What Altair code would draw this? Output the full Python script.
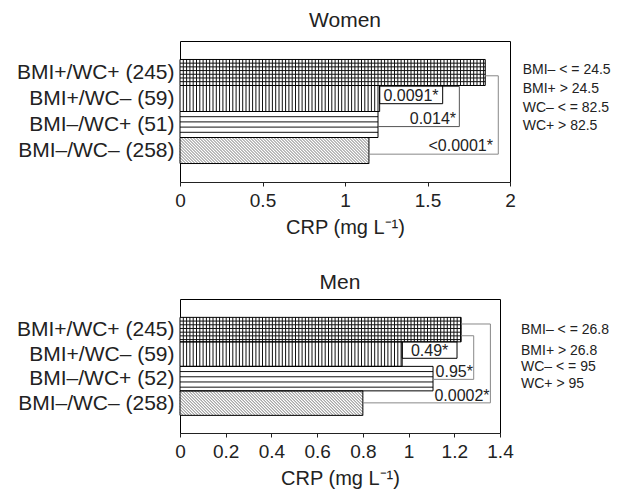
import json
import altair as alt
import numpy as np
import pandas as pd

FONT = "Liberation Sans"
INK = "#222222"

# ---------------- data ----------------
women_groups = ["BMI+/WC+ (245)", "BMI+/WC– (59)", "BMI–/WC+ (51)", "BMI–/WC– (258)"]
women_crp = [1.85, 1.21, 1.20, 1.145]
men_groups = ["BMI+/WC+ (245)", "BMI+/WC– (59)", "BMI–/WC+ (52)", "BMI–/WC– (258)"]
men_crp = [1.23, 0.972, 1.107, 0.80]
bar_patterns = ["grid", "vertical", "horizontal", "diagonal"]

women_cutoffs = ["BMI– < = 24.5", "BMI+ > 24.5", "WC– < = 82.5", "WC+ > 82.5"]
men_cutoffs = ["BMI– < = 26.8", "BMI+ > 26.8", "WC– < = 95", "WC+ > 95"]

women_pvals = ["0.0091*", "0.014*", "<0.0001*"]
men_pvals = ["0.49*", "0.95*", "0.0002*"]

women_xticks = [0, 0.5, 1, 1.5, 2]
men_xticks = [0, 0.2, 0.4, 0.6, 0.8, 1, 1.2, 1.4]

# annotation placement (x in mg/L, y in bar rows, row i spans i..i+1)
women_title_pos = (1.0, -1.46)
men_title_pos = (0.70, -1.41)
women_cut_rows = [0.40, 1.14, 1.85, 2.55]
men_cut_rows = [0.53, 1.36, 2.01, 2.72]
women_cut_x = 2.077
men_cut_x = 1.492

women_p_pos = [(1.40, 1.385, "center"), (1.673, 2.30, "right"), (1.897, 3.31, "right")]
men_p_pos = [(1.092, 1.36, "center"), (1.118, 2.24, "left"), (1.113, 3.20, "left")]

women_box = (1.21, 1.592, 1.0, 1.70)
men_box = (0.972, 1.212, 1.0, 1.67)

women_brackets = [
    ([1.21, 1.693, 1.693, 1.20], [1.04, 1.04, 2.58, 2.58], "#555555"),
    ([1.85, 1.929, 1.929, 1.145], [0.627, 0.627, 3.64, 3.64], "#888888"),
]
men_brackets = [
    ([1.23, 1.285, 1.285, 1.107], [0.75, 0.75, 2.53, 2.53], "#888888"),
    ([1.23, 1.358, 1.358, 0.80], [0.27, 0.27, 3.49, 3.49], "#888888"),
]


def texture(values, kinds, k, h):
    """Hatching lines inside each bar (decoration), in data units."""
    rows = []
    for i, (v, kind) in enumerate(zip(values, kinds)):
        w = v * k
        if kind in ("grid", "vertical"):
            for xp in np.arange(3.3, w - 0.5, 3.3):
                rows.append(dict(x=xp / k, x2=xp / k, y=i, y2=i + 1, c="#111111"))
        if kind == "grid":
            for yp in np.arange(3.7, h - 0.5, 3.7):
                rows.append(dict(x=0, x2=v, y=i + yp / h, y2=i + yp / h, c="#111111"))
        if kind == "horizontal":
            for yp in np.arange(5.2, h - 0.5, 5.2):
                rows.append(dict(x=0, x2=v, y=i + yp / h, y2=i + yp / h, c="#111111"))
        if kind == "diagonal":
            for c in np.arange(-h, w, 3.0):
                x0 = max(c, 0.0)
                x1 = min(c + h, w)
                if x1 <= x0:
                    continue
                rows.append(dict(x=x0 / k, x2=x1 / k, y=i + (x0 - c) / h,
                                 y2=i + (x1 - c) / h, c="#777777"))
    return pd.DataFrame(rows)


def panel(title, title_pos, groups, crp, cutoffs, cut_x, cut_rows, pvals, p_pos, box,
          brackets, xmax, xticks, width, height, ydom):
    k = width / xmax
    h = height / (ydom[1] - ydom[0])
    bars = pd.DataFrame({"group": groups, "crp": crp})
    bars["x0"] = 0.0
    bars["top"] = np.arange(len(groups), dtype=float)
    bars["bot"] = bars["top"] + 1

    xs = alt.Scale(domain=[0, xmax], nice=False, zero=False)
    ys = alt.Scale(domain=ydom, reverse=True, nice=False, zero=False)

    xaxis = alt.Axis(values=xticks, labelExpr="'' + datum.value",
                     title="CRP (mg L⁻¹)", grid=False, tickSize=4,
                     tickColor=INK, domainColor=INK, labelFontSize=19,
                     titleFontSize=20, titleFontWeight="normal",
                     labelColor=INK, titleColor=INK, labelPadding=5,
                     titlePadding=7, labelFont=FONT, titleFont=FONT,
                     labelFlush=False)
    yaxis = alt.Axis(values=[0.5, 1.5, 2.5, 3.5],
                     labelExpr=json.dumps(groups, ensure_ascii=False) + "[floor(datum.value)]",
                     ticks=False, domain=False, grid=False, title=None,
                     labelFontSize=21, labelColor=INK, labelFont=FONT,
                     labelPadding=6)

    def X(f):
        return alt.X(f, scale=xs, axis=xaxis)

    def Y(f):
        return alt.Y(f, scale=ys, axis=yaxis)

    base = alt.Chart(bars).mark_rect(fill="white").encode(
        x=X("x0:Q"), x2="crp:Q", y=Y("top:Q"), y2="bot:Q")

    tex = alt.Chart(texture(crp, bar_patterns, k, h)).mark_rule(strokeWidth=1).encode(
        x=X("x:Q"), x2="x2:Q", y=Y("y:Q"), y2="y2:Q",
        color=alt.Color("c:N", scale=None))

    outline = alt.Chart(bars).mark_rect(fillOpacity=0, stroke="black", strokeWidth=1).encode(
        x=X("x0:Q"), x2="crp:Q", y=Y("top:Q"), y2="bot:Q")

    brows = []
    for bi, (bxs, bys, col) in enumerate(brackets):
        for oi, (xx, yy) in enumerate(zip(bxs, bys)):
            brows.append(dict(id=bi, o=oi, x=xx, y=yy, c=col))
    br = alt.Chart(pd.DataFrame(brows)).mark_line(strokeWidth=1).encode(
        x=X("x:Q"), y=Y("y:Q"),
        detail="id:N", order="o:Q", color=alt.Color("c:N", scale=None))

    boxdf = pd.DataFrame([dict(x=box[0], x2=box[1], y=box[2], y2=box[3])])
    bx = alt.Chart(boxdf).mark_rect(fillOpacity=0, stroke="black", strokeWidth=1).encode(
        x=X("x:Q"), x2="x2:Q", y=Y("y:Q"), y2="y2:Q")

    layers = [base, tex, outline, br, bx]
    for txt, (px, py, al) in zip(pvals, p_pos):
        d = pd.DataFrame([dict(t=txt, x=px, y=py)])
        layers.append(alt.Chart(d).mark_text(align=al, baseline="middle", fontSize=16,
                                             font=FONT, color=INK).encode(
            x=X("x:Q"), y=Y("y:Q"), text="t:N"))

    cd = pd.DataFrame({"t": cutoffs, "y": cut_rows})
    cd["x"] = cut_x
    layers.append(alt.Chart(cd).mark_text(align="left", baseline="middle", fontSize=14,
                                          font=FONT, color=INK).encode(
        x=X("x:Q"), y=Y("y:Q"), text="t:N"))

    td = pd.DataFrame([dict(t=title, x=title_pos[0], y=title_pos[1])])
    layers.append(alt.Chart(td).mark_text(align="center", baseline="middle", fontSize=21,
                                          font=FONT, color=INK).encode(
        x=X("x:Q"), y=Y("y:Q"), text="t:N"))

    return alt.layer(*layers).properties(width=width, height=height)


women = panel("Women", women_title_pos, women_groups, women_crp, women_cutoffs, women_cut_x,
              women_cut_rows, women_pvals, women_p_pos, women_box, women_brackets,
              2, women_xticks, 330, 141, [-0.71, 4.71])
men = panel("Men", men_title_pos, men_groups, men_crp, men_cutoffs, men_cut_x,
            men_cut_rows, men_pvals, men_p_pos, men_box, men_brackets,
            1.4, men_xticks, 320, 134, [-0.75, 4.72])

chart = alt.vconcat(women, men, spacing=33).configure_view(
    stroke="black", strokeWidth=1).properties(
    padding={"left": 7, "top": 1, "right": 5, "bottom": 0})

chart.save("out.html", embed_options={"renderer": "svg", "actions": False})
